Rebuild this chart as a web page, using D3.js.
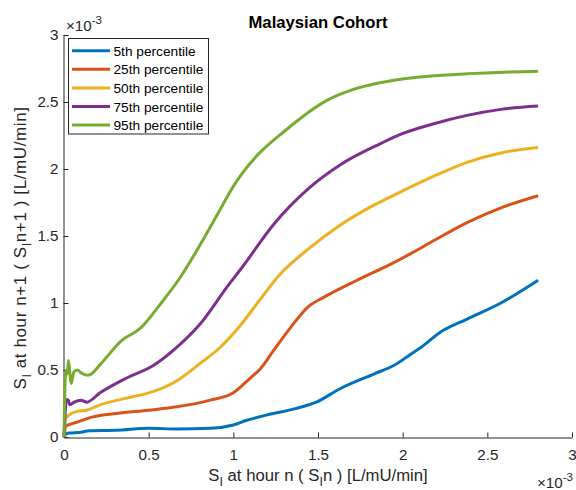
<!DOCTYPE html>
<html>
<head>
<meta charset="utf-8">
<script src="https://cdn.jsdelivr.net/npm/d3@7/dist/d3.min.js"></script>
<style>
  html, body { margin: 0; padding: 0; background: #fff; }
  svg { display: block; font-family: "Liberation Sans", Arial, Helvetica, sans-serif; }
</style>
</head>
<body>
<svg id="chart" width="576" height="490"></svg>
<script>
// Values in units of 1e-3 L/mU/min
const seriesNames = ["5th percentile", "25th percentile", "50th percentile", "75th percentile", "95th percentile"];
const seriesColors = ["#0072BD", "#D95319", "#EDB120", "#7E2F8E", "#77AC30"];

const p5 = [[0,0],[0.01,0.02],[0.03,0.03],[0.1,0.035],[0.15,0.047],[0.31,0.05],[0.5,0.065],[0.667,0.06],[0.864,0.065],[1.0,0.09],[1.08,0.125],[1.2,0.165],[1.36,0.21],[1.49,0.26],[1.63,0.36],[1.83,0.47],[1.95,0.535],[2.05,0.62],[2.11,0.67],[2.22,0.78],[2.38,0.88],[2.58,1.0],[2.8,1.17]];
const p25 = [[0,0],[0.01,0.08],[0.025,0.09],[0.075,0.11],[0.17,0.15],[0.31,0.175],[0.5,0.2],[0.667,0.225],[0.864,0.275],[1.0,0.33],[1.1,0.44],[1.16,0.51],[1.24,0.65],[1.34,0.82],[1.44,0.97],[1.53,1.04],[1.73,1.17],[1.93,1.29],[2.05,1.37],[2.19,1.47],[2.38,1.60],[2.58,1.71],[2.8,1.80]];
const p50 = [[0,0],[0.01,0.14],[0.025,0.16],[0.075,0.19],[0.134,0.2],[0.213,0.24],[0.37,0.29],[0.53,0.34],[0.667,0.42],[0.805,0.55],[0.923,0.67],[1.04,0.83],[1.16,1.03],[1.28,1.22],[1.44,1.40],[1.63,1.58],[1.83,1.73],[1.99,1.83],[2.19,1.95],[2.38,2.05],[2.58,2.12],[2.8,2.16]];
const p75 = [[0,0],[0.008,0.2],[0.015,0.28],[0.025,0.275],[0.035,0.24],[0.06,0.26],[0.1,0.275],[0.134,0.26],[0.213,0.33],[0.37,0.44],[0.53,0.535],[0.667,0.67],[0.805,0.845],[0.963,1.12],[1.06,1.28],[1.24,1.59],[1.44,1.85],[1.63,2.03],[1.87,2.19],[1.99,2.26],[2.19,2.34],[2.38,2.40],[2.58,2.445],[2.8,2.47]];
const p95 = [[0,0],[0.008,0.45],[0.015,0.5],[0.02,0.47],[0.026,0.57],[0.033,0.5],[0.042,0.40],[0.05,0.44],[0.06,0.49],[0.08,0.5],[0.1,0.48],[0.14,0.46],[0.16,0.47],[0.213,0.54],[0.34,0.72],[0.45,0.81],[0.568,0.99],[0.686,1.19],[0.765,1.35],[0.834,1.50],[0.923,1.70],[1.0,1.87],[1.06,1.98],[1.14,2.10],[1.30,2.28],[1.55,2.51],[1.7,2.59],[1.85,2.64],[1.99,2.67],[2.38,2.71],[2.8,2.73]];
const seriesData = [p5, p25, p50, p75, p95];

const xTicks = [0, 0.5, 1, 1.5, 2, 2.5, 3];
const yTicks = [0, 0.5, 1, 1.5, 2, 2.5, 3];
const xTickLabels = ["0", "0.5", "1", "1.5", "2", "2.5", "3"];
const yTickLabels = ["0", "0.5", "1", "1.5", "2", "2.5", "3"];

const svg = d3.select("#chart");
const mLeft = 64, mRight = 572, mTop = 35, mBottom = 437;
const axisColor = "#262626";
const tickFont = 15.2, labelFont = 16.7, legendFont = 13.7;

const x = d3.scaleLinear().domain([0, 3]).range([mLeft, mRight]);
const y = d3.scaleLinear().domain([0, 3]).range([mBottom, mTop]);

// Axes
const xAxis = d3.axisBottom(x).tickValues(xTicks).tickFormat((d, i) => xTickLabels[i]).tickSizeInner(-5).tickSizeOuter(0).tickPadding(11.5);
const yAxis = d3.axisLeft(y).tickValues(yTicks).tickFormat((d, i) => yTickLabels[i]).tickSizeInner(-5).tickSizeOuter(0).tickPadding(5);

const gx = svg.append("g").attr("transform", `translate(0,${mBottom + 0.5})`).call(xAxis);
const gy = svg.append("g").attr("transform", `translate(${mLeft - 0.5},0)`).call(yAxis);
[gx, gy].forEach(g => {
  g.selectAll("path.domain").attr("stroke", axisColor).attr("stroke-width", 1);
  g.selectAll(".tick line").attr("stroke", axisColor);
  g.selectAll(".tick text").attr("fill", axisColor).style("font-size", tickFont + "px").style("font-family", '"Liberation Sans", Arial, sans-serif');
});

// Lines
const line = d3.line().x(d => x(d[0])).y(d => y(d[1])).curve(d3.curveMonotoneX);
const plot = svg.append("g");
seriesData.forEach((s, i) => {
  plot.append("path").datum(s)
    .attr("fill", "none")
    .attr("stroke", seriesColors[i])
    .attr("stroke-width", 3)
    .attr("stroke-linejoin", "round")
    .attr("d", line);
});

// Title
svg.append("text").attr("x", (mLeft + mRight) / 2).attr("y", 27.5).attr("text-anchor", "middle")
  .attr("font-weight", "bold").attr("font-size", labelFont).attr("fill", "#000").text("Malaysian Cohort");

// Exponent labels
function expLabel(xp, yp, anchor) {
  const t = svg.append("text").attr("x", xp).attr("y", yp).attr("text-anchor", anchor).attr("fill", axisColor).attr("font-size", tickFont);
  t.append("tspan").text("×10");
  t.append("tspan").attr("dy", -7).attr("font-size", 11.5).text("-3");
}
expLabel(66, 30.5, "start");
expLabel(573, 488, "end");

// X label
const xl = svg.append("text").attr("x", (mLeft + mRight) / 2).attr("y", 481).attr("text-anchor", "middle")
  .attr("font-size", labelFont).attr("fill", axisColor);
xl.append("tspan").text("S");
xl.append("tspan").attr("font-size", 12.5).attr("dy", 5).text("I");
xl.append("tspan").attr("dy", -5).text(" at hour n ( S");
xl.append("tspan").attr("font-size", 12.5).attr("dy", 5).text("I");
xl.append("tspan").attr("dy", -5).text("n ) [L/mU/min]");

// Y label
const yl = svg.append("text").attr("transform", `translate(26,248) rotate(-90)`).attr("text-anchor", "middle")
  .attr("font-size", 17).attr("letter-spacing", 0.6).attr("fill", axisColor);
yl.append("tspan").text("S");
yl.append("tspan").attr("font-size", 12.5).attr("dy", 5).text("I");
yl.append("tspan").attr("dy", -5).text(" at hour n+1 ( S");
yl.append("tspan").attr("font-size", 12.5).attr("dy", 5).text("I");
yl.append("tspan").attr("dy", -5).text("n+1 ) [L/mU/min]");

// Legend
const lg = svg.append("g");
lg.append("rect").attr("x", 68.5).attr("y", 38.5).attr("width", 140).attr("height", 95.5)
  .attr("fill", "#fff").attr("stroke", axisColor).attr("stroke-width", 1);
seriesNames.forEach((name, i) => {
  const cy = 50.7 + i * 18.6;
  lg.append("line").attr("x1", 72).attr("x2", 110).attr("y1", cy).attr("y2", cy)
    .attr("stroke", seriesColors[i]).attr("stroke-width", 3);
  lg.append("text").attr("x", 113.5).attr("y", cy + 5).attr("font-size", legendFont).attr("fill", "#000").text(name);
});
</script>
</body>
</html>
